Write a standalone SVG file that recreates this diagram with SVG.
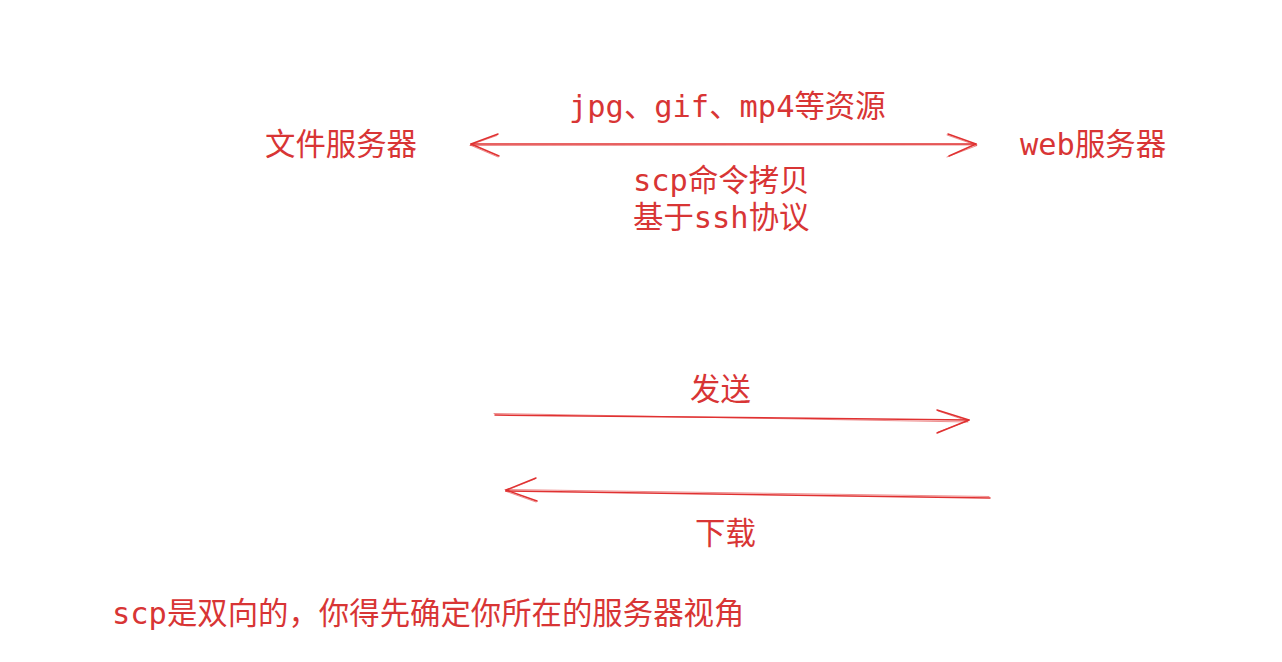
<svg xmlns="http://www.w3.org/2000/svg" width="1282" height="662" viewBox="0 0 1282 662">
<style>
.t{font-family:"DejaVu Sans Mono","Noto Sans CJK SC",monospace;font-size:30.4px;fill:#d83535;}
.c{font-family:"Noto Sans CJK SC",sans-serif;}
.l{fill:none;stroke:#e03131;stroke-width:1.5;stroke-linecap:round;stroke-linejoin:round;}
.l2{fill:none;stroke:#e03131;stroke-width:1;stroke-opacity:0.55;stroke-linecap:round;}
</style>
<rect width="1282" height="662" fill="#ffffff"/>
<g id="file-server"><text class="t c" x="265" y="155">文件服务器</text></g>
<g id="web-server"><text class="t" x="1020" y="155">web服务器</text></g>
<g id="label-resources"><text class="t" x="569" y="117">jpg、gif、mp4等资源</text></g>
<g id="label-scp"><text class="t" x="633" y="191">scp命令拷贝</text><text class="t" x="633" y="228">基于ssh协议</text></g>
<g id="label-send"><text class="t c" x="690" y="400">发送</text></g>
<g id="label-download"><text class="t c" x="695" y="544">下载</text></g>
<g id="note"><text class="t" x="112" y="624">scp是双向的，你得先确定你所在的服务器视角</text></g>
<g id="connectors">
<path class="l" d="M471 144 L976 144"/>
<path class="l2" d="M470 145.5 L977 145"/>
<path class="l" d="M498 134 L471 144 L499 156"/>
<path class="l2" d="M497 135.5 L470 145 L498 157"/>
<path class="l" d="M948 134 L976 144 L949 156"/>
<path class="l2" d="M947 135 L977 145.5 L947 157"/>
<path class="l" d="M495 415 L969 420"/>
<path class="l2" d="M494 413.5 L968 422"/>
<path class="l" d="M937 410 L969 420 L937 433"/>
<path class="l2" d="M938 411 L968 421 L938 432"/>
<path class="l" d="M990 498 L506 491"/>
<path class="l2" d="M989 496.5 L505 489.5"/>
<path class="l" d="M536 478 L506 490 L537 501"/>
<path class="l2" d="M535 479 L505 491 L536 502"/>
</g>
</svg>
